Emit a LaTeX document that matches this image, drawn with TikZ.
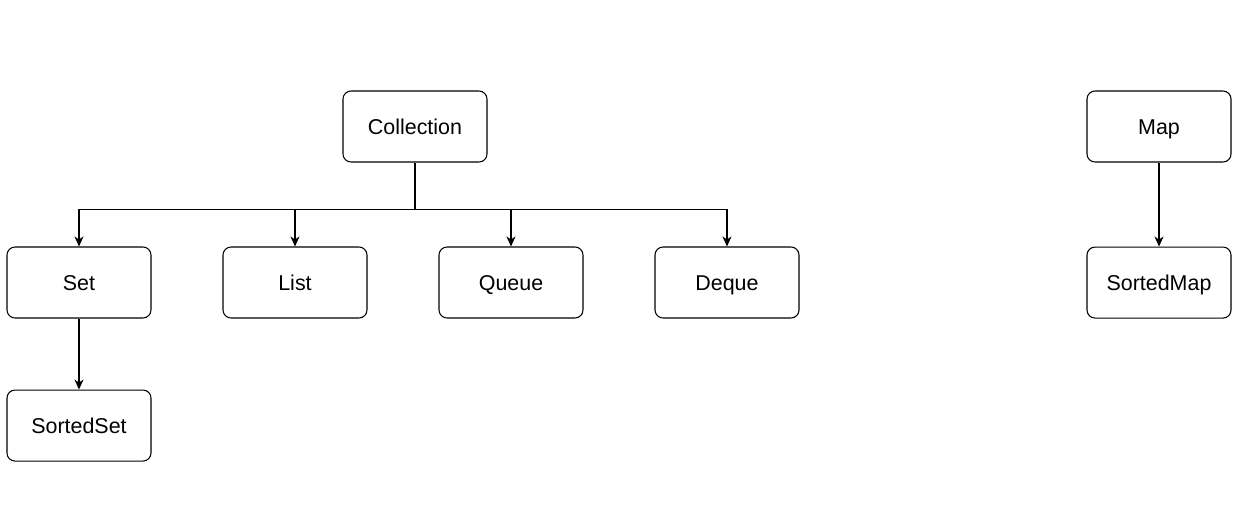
\documentclass[tikz,border=0pt]{standalone}
\usepackage{fontspec}
\setmainfont{Liberation Sans}
\usetikzlibrary{arrows.meta,positioning,calc}
\tikzset{
  ifacebox/.style={draw=black,rounded corners=1.6mm,fill=white,line width=0.6pt,
    minimum width=2.88cm,minimum height=1.42cm,align=center,
    text height=9.6pt,text depth=1pt,font=\fontsize{12.2}{14}\selectfont},
  inharrow/.style={-{Stealth[length=2mm,width=1.8mm,inset=0.6mm]},
    line width=0.6pt,draw=black},
}
\begin{document}
\begin{tikzpicture}[node distance=1.42cm]
  \useasboundingbox (0,0) rectangle (25.04,-10.22);
  \node[ifacebox] (coll) at (8.3,-2.53) {Collection};
  \node[ifacebox] (set) at (1.58,-5.65) {Set};
  \node[ifacebox] (list) at (5.9,-5.65) {List};
  \node[ifacebox] (queue) at (10.22,-5.65) {Queue};
  \node[ifacebox] (deque) at (14.54,-5.65) {Deque};
  \node[ifacebox,below=of set] (sset) {SortedSet};
  \node[ifacebox] (map) at (23.18,-2.53) {Map};
  \node[ifacebox,below=1.68cm of map] (smap) {SortedMap};
  \coordinate (bus) at ($(coll.south)!0.565!(coll.south|-set.north)$);
  \draw[inharrow] (coll.south) |- (bus) -| (set.north);
  \draw[inharrow] (bus) -| (list.north);
  \draw[inharrow] (bus) -| (queue.north);
  \draw[inharrow] (bus) -| (deque.north);
  \draw[inharrow] (set) -- (sset);
  \draw[inharrow] (map) -- (smap);
\end{tikzpicture}
\end{document}
